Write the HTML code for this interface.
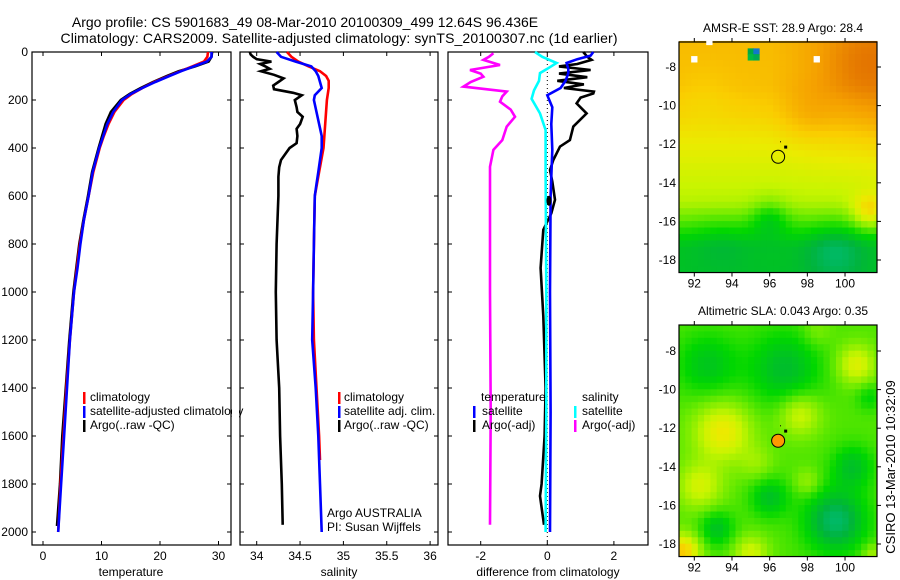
<!DOCTYPE html>
<html><head><meta charset="utf-8"><style>
body{margin:0;background:#fff}
svg{display:block;font-family:"Liberation Sans",sans-serif}
</style></head><body>
<svg id="s" width="900" height="580" viewBox="0 0 900 580">
<rect width="900" height="580" fill="#fff"/>
<text x="305" y="27" font-size="14" text-anchor="middle">Argo profile: CS 5901683_49 08-Mar-2010 20100309_499 12.64S 96.436E</text>
<text x="339" y="43" font-size="14" text-anchor="middle" textLength="557">Climatology: CARS2009. Satellite-adjusted climatology: synTS_20100307.nc (1d earlier)</text>
<g id="g"></g>
</svg>
<script>
// ---------- data ----------
const tempClimD=[0,20,40,60,80,100,125,150,175,200,250,300,350,400,500,600,700,800,900,1000,1200,1400,1600,1800,2000];
const tempClim=[28.2,28.1,27.5,25.5,23.5,21.5,19,17,15.2,13.8,12.2,11.2,10.4,9.7,8.6,7.8,7.0,6.3,5.8,5.3,4.6,4.0,3.5,3.0,2.6];
const tempSatD=[0,20,40,60,80,100,125,150,175,200,250,300,350,400,500,600,700,800,900,1000,1200,1400,1600,1800,2000];
const tempSat=[28.8,28.8,28,25.8,23.6,21.6,19.2,17,15,13.5,12,11,10.3,9.6,8.5,7.8,7.0,6.4,5.9,5.3,4.6,4.1,3.6,3.1,2.6];
const tempArgoD=[0,20,40,60,80,100,125,150,175,200,250,300,350,400,500,600,700,800,900,1000,1200,1400,1600,1800,1975];
const tempArgo=[28.9,28.8,28.3,26,23.2,21.2,18.8,16.7,14.8,13.3,11.6,10.7,10.1,9.5,8.4,7.7,6.9,6.2,5.7,5.2,4.5,3.9,3.3,2.9,2.4];
const salArgoD=[0,10,20,30,40,50,60,70,80,95,110,125,140,155,170,180,200,230,250,270,300,320,350,380,400,430,450,480,520,600,800,1000,1200,1400,1600,1800,1970];
const salArgo=[33.92,33.93,33.96,34.0,34.17,34.04,34.1,34.15,34.05,34.2,34.31,34.25,34.19,34.2,34.42,34.52,34.44,34.46,34.47,34.53,34.5,34.46,34.47,34.46,34.38,34.32,34.28,34.26,34.25,34.25,34.23,34.22,34.23,34.26,34.27,34.29,34.3];
const salClimD=[0,20,40,60,80,100,120,150,200,300,400,500,600,800,1000,1200,1400,1600,1700];
const salClim=[34.35,34.4,34.48,34.6,34.73,34.8,34.83,34.83,34.81,34.79,34.77,34.72,34.67,34.66,34.65,34.66,34.69,34.72,34.73];
const salSatD=[0,20,40,60,80,100,150,180,200,250,300,350,400,450,500,550,600,800,1000,1200,1400,1600,1800,2000];
const salSat=[34.23,34.28,34.45,34.63,34.68,34.71,34.75,34.67,34.66,34.69,34.72,34.75,34.75,34.73,34.71,34.69,34.67,34.66,34.65,34.64,34.68,34.71,34.73,34.75];
const dSalArgoD=[5,20,33,54,75,90,103,125,144,165,185,207,240,270,311,367,408,478,600,1000,1500,1970];
const dSalArgo=[-1.62,-1.75,-1.92,-1.42,-2.32,-2.0,-1.92,-2.3,-2.52,-1.22,-1.35,-1.42,-1.1,-0.97,-1.22,-1.35,-1.62,-1.72,-1.72,-1.72,-1.7,-1.72];
const dSalSatD=[0,20,46,70,88,120,160,195,256,325,500,1000,1500,2000];
const dSalSat=[-0.37,-0.15,0.28,0.0,-0.22,-0.25,-0.4,-0.47,-0.22,-0.05,-0.05,-0.03,-0.03,-0.05];
const dTempSatD=[0,15,30,46,70,88,120,150,180,230,300,408,600,1000,1500,2000];
const dTempSat=[1.38,1.3,0.9,0.58,0.63,0.63,0.55,0.4,0.0,0.15,0.12,0.15,0.1,0.08,0.1,0.08];
const dTempArgoD=[0,20,33,50,60,75,90,105,120,135,150,165,173,190,214,256,311,367,394,450,492,540,616,672,741,900,1100,1400,1600,1800,1850,1970];
const dTempArgo=[1.08,1.2,1.33,0.9,0.35,1.3,0.35,1.2,0.3,1.1,0.5,1.4,1.38,1.0,0.88,1.18,0.78,0.68,0.38,0.18,0.08,0.15,0.23,0.12,-0.12,-0.2,-0.12,-0.05,-0.08,-0.17,-0.22,-0.1];
const depthTicks=[0,200,400,600,800,1000,1200,1400,1600,1800,2000];
const tempTicks=[0,10,20,30];
const salTicks=[34,34.5,35,35.5,36];
const diffTicks=[-2,0,2];
const lonTicks=[92,94,96,98,100];
const latTicks=[-8,-10,-12,-14,-16,-18];

// ---------- helpers ----------
const NS="http://www.w3.org/2000/svg";const G=document.getElementById('g');
function mk(tag,at,txt){const e=document.createElementNS(NS,tag);for(const k in at)e.setAttribute(k,at[k]);if(txt!==undefined)e.textContent=txt;G.appendChild(e);return e;}
const yD=d=>52+d*0.24;
const P1={x0:32,x1:231,f:v=>43+v*5.85};
const P2={x0:240,x1:438,f:v=>256.7+(v-34)*86.7};
const P3={x0:448,x1:648,f:v=>547.3+v*33.3};
function frame(P,ticks,labels,name){
  const r=mk('rect',{x:P.x0,y:52,width:P.x1-P.x0,height:493,fill:'none',stroke:'#000','stroke-width':1.2});
  
  ticks.forEach((t,i)=>{const x=P.f(t);
    let l=mk('line',{x1:x,x2:x,y1:545,y2:541,stroke:'#000'});
    l=mk('line',{x1:x,x2:x,y1:52,y2:56,stroke:'#000'});
    const tx=mk('text',{x:x,y:560,'font-size':12,'text-anchor':'middle'},labels[i]);});
  depthTicks.forEach(d=>{const y=yD(d);
    let l=mk('line',{x1:P.x0,x2:P.x0+4,y1:y,y2:y,stroke:'#000'});
    l=mk('line',{x1:P.x1,x2:P.x1-4,y1:y,y2:y,stroke:'#000'});});
}
function line(P,D,V,col,name,w){
  const pts=D.map((d,i)=>P.f(V[i]).toFixed(1)+','+yD(d).toFixed(1)).join(' ');
  const p=mk('polyline',{points:pts,fill:'none',stroke:col,'stroke-width':w||2.6,'stroke-linejoin':'miter'});
  
}
function txt(x,y,s,name,extra){const t=mk('text',Object.assign({x:x,y:y,'font-size':12},extra||{}),s);return t;}
function legBar(x,y,col,name){const r=mk('rect',{x:x,y:y-9,width:2.5,height:12,fill:col});}

// ---------- panel 1 ----------
frame(P1,tempTicks,tempTicks.map(String),'temperature-panel');
depthTicks.forEach(d=>txt(28,yD(d)+4,String(d),'depth-tick-label',{'text-anchor':'end'}));
line(P1,tempArgoD,tempArgo,'#000','temp-argo-line');
line(P1,tempClimD,tempClim,'#f00','temp-climatology-line');
line(P1,tempSatD,tempSat,'#00f','temp-satellite-line');
txt(131,576,'temperature','x-axis-title-temperature',{'text-anchor':'middle'});
legBar(83,401,'#f00','legend-swatch-climatology');txt(90,401,'climatology','legend-entry-climatology');
legBar(83,415,'#00f','legend-swatch-satellite');txt(90,415,'satellite-adjusted climatology','legend-entry-satellite-adjusted');
legBar(83,429,'#000','legend-swatch-argo');txt(90,429,'Argo(..raw -QC)','legend-entry-argo');
const cover=mk('rect',{x:232,y:380,width:7,height:60,fill:'#fff'});
// ---------- panel 2 ----------
frame(P2,salTicks,['34','34.5','35','35.5','36'],'salinity-panel');
line(P2,salArgoD,salArgo,'#000','sal-argo-line');
line(P2,salClimD,salClim,'#f00','sal-climatology-line');
line(P2,salSatD,salSat,'#00f','sal-satellite-line');
txt(339,576,'salinity','x-axis-title-salinity',{'text-anchor':'middle'});
legBar(338,401,'#f00','legend-swatch-sal-clim');txt(344,401,'climatology','legend-entry-sal-clim');
legBar(338,415,'#00f','legend-swatch-sal-sat');txt(344,415,'satellite adj. clim.','legend-entry-sal-sat');
legBar(338,429,'#000','legend-swatch-sal-argo');txt(344,429,'Argo(..raw -QC)','legend-entry-sal-argo');
txt(327,517,'Argo AUSTRALIA','credit-argo-australia');
txt(327,531,'PI: Susan Wijffels','credit-pi');
// ---------- panel 3 ----------
frame(P3,diffTicks,['-2','0','2'],'difference-panel');
const zl=mk('line',{x1:P3.f(0),x2:P3.f(0),y1:52,y2:545,stroke:'#000','stroke-dasharray':'1,3'});
line(P3,dSalArgoD,dSalArgo,'#f0f','diff-sal-argo-line');
line(P3,dTempArgoD,dTempArgo,'#000','diff-temp-argo-line');
line(P3,dSalSatD,dSalSat,'#0ff','diff-sal-satellite-line');
line(P3,dTempSatD,dTempSat,'#00f','diff-temp-satellite-line');
const bd=mk('ellipse',{cx:P3.f(0.05),cy:yD(620),rx:2.5,ry:5,fill:'#000'});
txt(548,576,'difference from climatology','x-axis-title-difference',{'text-anchor':'middle'});
txt(481,401,'temperature','legend-title-temperature');
legBar(473,415,'#00f','legend-swatch-temp-sat');txt(482,415,'satellite','legend-entry-temp-sat');
legBar(473,429,'#000','legend-swatch-temp-argo');txt(482,429,'Argo(-adj)','legend-entry-temp-argo');
txt(582,401,'salinity','legend-title-salinity');
legBar(574,415,'#0ff','legend-swatch-sal-sat-diff');txt(582,415,'satellite','legend-entry-sal-sat-diff');
legBar(574,429,'#f0f','legend-swatch-sal-argo-diff');txt(582,429,'Argo(-adj)','legend-entry-sal-argo-diff');

// ---------- maps ----------
const stops=[[0,[0,190,140]],[0.15,[0,180,60]],[0.3,[0,215,0]],[0.45,[110,235,0]],[0.6,[200,245,0]],[0.7,[235,235,0]],[0.8,[250,205,0]],[0.9,[245,160,0]],[1,[225,110,0]]];
function cmap(v){v=Math.max(0,Math.min(1,v));for(let i=1;i<stops.length;i++){if(v<=stops[i][0]){const a=stops[i-1],b=stops[i],t=(v-a[0])/(b[0]-a[0]);return 'rgb('+a[1].map((c,k)=>Math.round(c+(b[1][k]-c)*t)).join(',')+')';}}return 'rgb(225,110,0)';}
function gb(lon,lat,B){let s=0;B.forEach(b=>{const d2=((lon-b[0])**2+(lat-b[1])**2)/(b[3]*b[3]);s+=b[2]*Math.exp(-d2);});return s;}
const sstBlobs=[[96,-15.8,-0.17,1.0],[99.5,-17.6,-0.14,1.5],[101.3,-15.5,0.25,0.9],[93.5,-17,-0.05,1.5],[100.8,-8,0.06,2],[98,-10.5,0.05,1.5],[92.5,-9.5,-0.03,1.5]];
function sst(lon,lat){const L=[[-6.5,0.84],[-9,0.83],[-10.5,0.78],[-12,0.7],[-13.5,0.63],[-15,0.57],[-16,0.42],[-17.3,0.22],[-19,0.2]];let b=0.2;for(let i=1;i<L.length;i++){if(lat>=L[i][0]){const t=(lat-L[i-1][0])/(L[i][0]-L[i-1][0]);b=L[i-1][1]+(L[i][1]-L[i-1][1])*t;break;}}
  b+=0.09*Math.max(0,(lon-96)/5)*Math.max(0,Math.min(1,(lat+15)/4));return b+gb(lon,lat,sstBlobs);}
const slaBlobs=[[93.5,-12.2,0.3,1.5],[92.3,-15,0.22,1.2],[91.4,-18.4,0.4,0.9],[95,-18.5,0.22,0.9],[97.6,-11.3,0.22,1.1],[100.6,-8.7,0.25,1.0],[95.3,-13.8,0.1,0.9],[98,-14.8,0.12,0.7],[101.5,-18.6,0.15,0.6],[98.5,-7,0.08,0.8],
 [92.7,-8.7,-0.18,1.6],[96.8,-8.9,-0.22,1.9],[93.2,-17.2,-0.2,0.9],[96,-15.6,-0.2,1.0],[99.5,-16.8,-0.34,1.6],[100.4,-14,-0.2,1.1],[101.3,-10.4,-0.12,0.7]];
const sla=(lon,lat)=>0.41+gb(lon,lat,slaBlobs);
const lonX=lon=>694.3+(lon-92)*18.84;
function drawMap(top,latY,field,name,title,markerFill){
  const x0=679,x1=877,yT=top,yB=latY(-18.65);
  const lon0=(x0-694.3)/18.84+92;
  for(let lon=lon0;lon<101.75;lon+=1/3){for(let lat=-6.65;lat>-18.7;lat-=1/3){
    const x=lonX(lon),y=latY(lat);const w=Math.min(6.28,x1-x),h=Math.min(6.44,yB-y);if(w<=0||h<=0)continue;
    const r=mk('rect',{x:x.toFixed(2),y:y.toFixed(2),width:(w+0.4).toFixed(2),height:(h+0.4).toFixed(2),fill:cmap(field(lon+1/6,lat-1/6))});
    }}
  const f=mk('rect',{x:x0,y:yT,width:x1-x0,height:yB-yT,fill:'none',stroke:'#000','stroke-width':1.2});
  latTicks.forEach(l=>{const y=latY(l);const t=mk('line',{x1:x1,x2:x1+4,y1:y,y2:y,stroke:'#000'});
    txt(676,y+4,String(l),name+'-lat-label',{'text-anchor':'end'});});
  lonTicks.forEach(l=>{const x=lonX(l);let t=mk('line',{x1:x,x2:x,y1:yB,y2:yB+4,stroke:'#000'});
    t=mk('line',{x1:x,x2:x,y1:yT,y2:yT-4,stroke:'#000'});
    txt(x,yB+15,String(l),name+'-lon-label',{'text-anchor':'middle'});});
  txt(783,yT-10,title,name+'-title',{'text-anchor':'middle'});
  const c=mk('circle',{cx:lonX(96.45),cy:latY(-12.65),r:6.5,fill:markerFill,stroke:'#000','stroke-width':1});
  let s=mk('rect',{x:lonX(96.85)-1.5,y:latY(-12.15)-1.5,width:3,height:3,fill:'#000'});
  s=mk('rect',{x:lonX(96.55),y:latY(-11.85),width:1,height:1,fill:'#000'});
}
drawMap(42,lat=>67+(-8-lat)*19.3,sst,'sst-map','AMSR-E SST: 28.9 Argo: 28.4','none');
[[92,-7.6,'#fff'],[92.8,-6.7,'#fff'],[98.5,-7.6,'#fff'],[95,-7.2,'#0a4'],[95.3,-7.2,'#17c'],[95,-7.5,'#0b4'],[95.3,-7.5,'#0a5']].forEach(a=>{
  const r=mk('rect',{x:lonX(a[0]-1/6),y:67+(-8-a[1])*19.3-3.2,width:6.3,height:6.4,fill:a[2]});});
drawMap(325,lat=>351+(-8-lat)*19.3,sla,'sla-map','Altimetric SLA: 0.043 Argo: 0.35','#f90');
txt(895,467,'CSIRO 13-Mar-2010 10:32:09','timestamp',{'text-anchor':'middle',transform:'rotate(-90 895 467)','font-size':13});
</script>
</body></html>
